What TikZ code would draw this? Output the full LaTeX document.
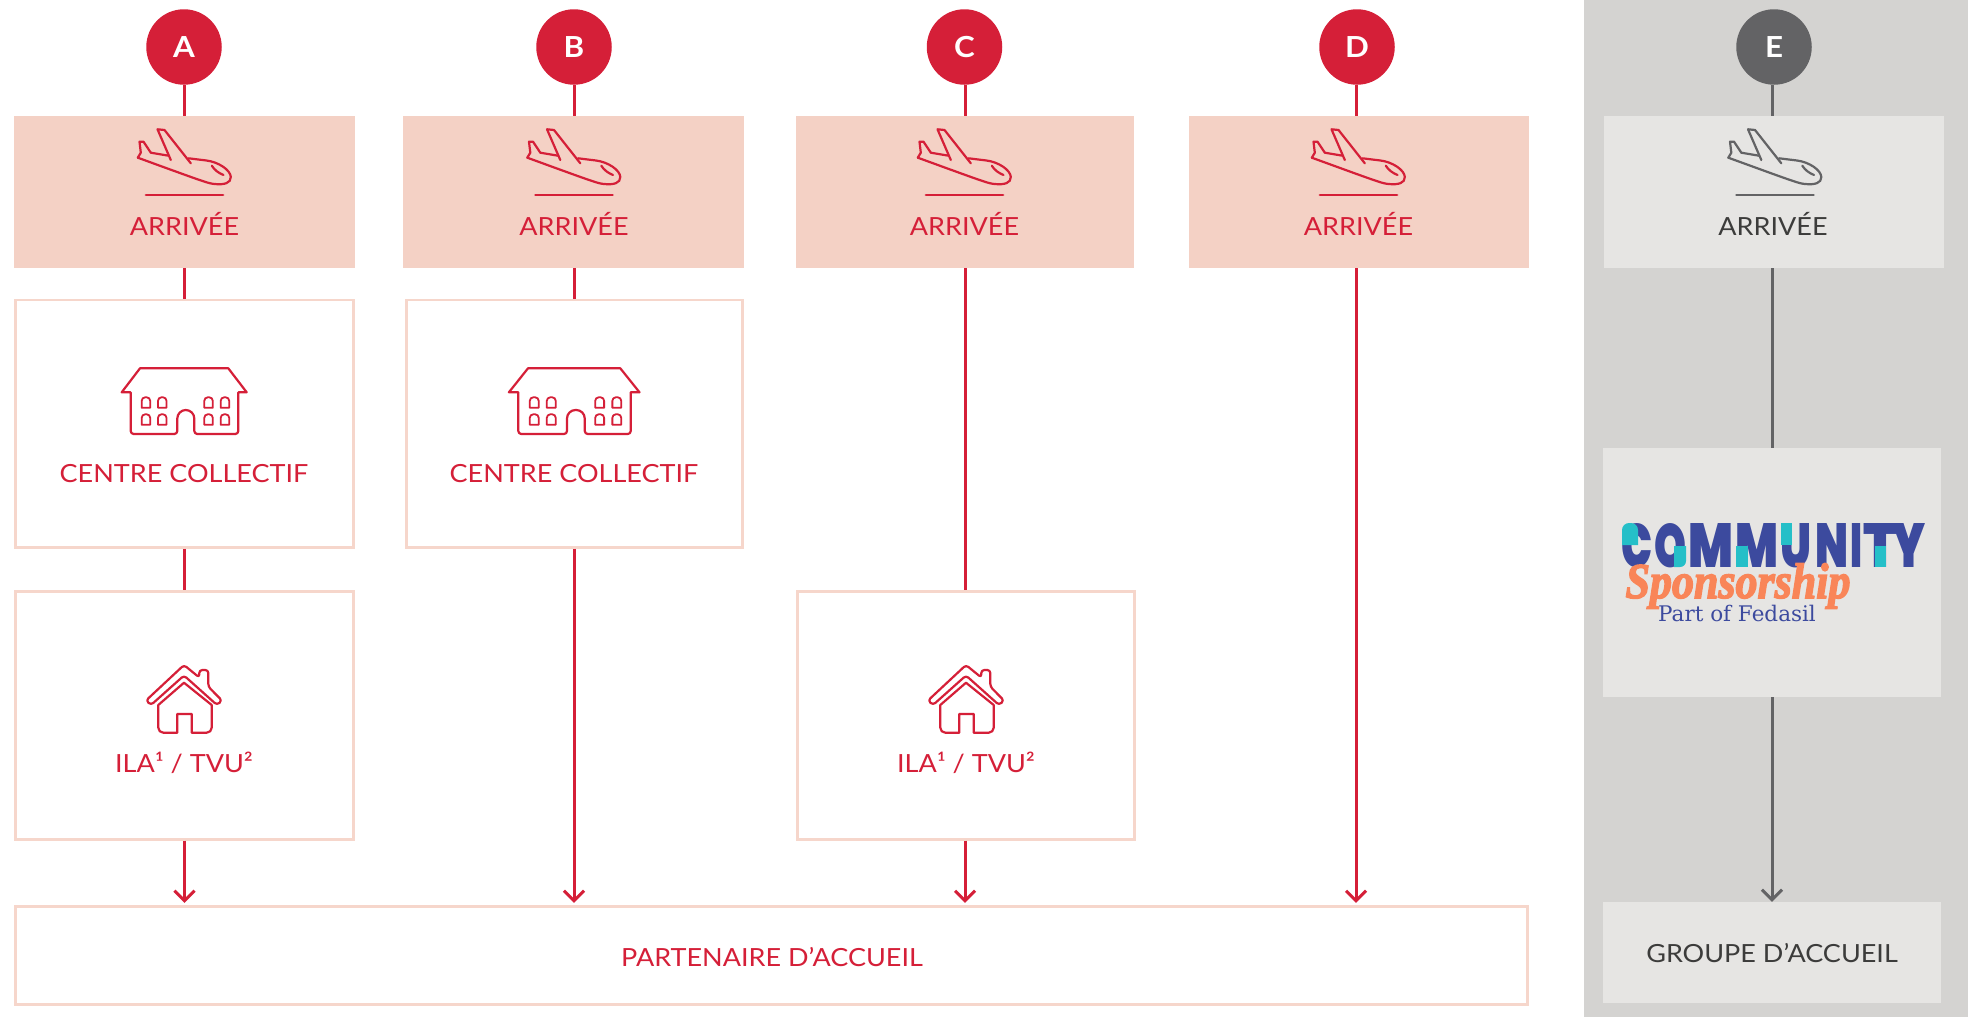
\documentclass[tikz,border=0pt]{standalone}
\usepackage{fontspec}
\usepackage{graphicx}
\usetikzlibrary{arrows.meta}
\setsansfont[FakeStretch=1.08]{Lato}
\renewcommand{\familydefault}{\sfdefault}
\newfontfamily\logofont{Poppins Black}
\newfontfamily\subfont{DejaVu Serif}
\newfontfamily\swashfont[UprightFont=* Bold Italic,FakeBold=3]{Liberation Serif}

\definecolor{inkred}{HTML}{D51F38}
\definecolor{inkgrey}{HTML}{636365}
\definecolor{inkdark}{HTML}{3C3C3B}
\definecolor{pinkfill}{HTML}{F4D1C5}
\definecolor{pinkedge}{HTML}{F6D6CB}
\definecolor{panelgrey}{HTML}{D4D3D1}
\definecolor{boxgrey}{HTML}{E6E5E3}
\definecolor{logoblue}{HTML}{3C4A9E}
\definecolor{logoteal}{HTML}{25BFC8}
\definecolor{logoorange}{HTML}{F98558}

% one logo letter: gap, width, letter
\newcommand{\logoletter}[3]{\hspace{#1pt}\resizebox{#2pt}{44pt}{#3}}

\tikzset{
    badge/.style={circle,inner sep=0pt,minimum size=75.5pt,text=white,font=\fontsize{29}{29}\selectfont\bfseries},
    arrivalbox/.style={rectangle,fill=pinkfill,inner sep=0pt,minimum height=152pt},
    greybox/.style={rectangle,fill=boxgrey,inner sep=0pt},
    stopbox/.style={rectangle,draw=pinkedge,line width=2.8pt,fill=white,inner sep=0pt,minimum height=247.5pt},
    caption/.style={inner sep=0pt,anchor=base,font=\fontsize{25}{25}\selectfont},
    link/.style={line width=3pt},
    flow/.style={line width=3pt,-{Straight Barb[length=10pt,width=20pt]},shorten >=2pt},
    iconline/.style={line width=2.2pt,line join=round,line cap=round},
    plane/.pic={
        \draw[iconline] (-46.7,41.7) -- (-43.7,36.7) -- (-45,25.7) -- (-41,25.7) -- (-33.7,36.7) -- (-16,39.7);
        \draw[iconline] (-13.7,44) -- (-27,13.3) -- (-20,14) -- (6.3,47.3);
        \draw[iconline] (4,42.3) -- (22,44.5) .. controls (34,46) and (46,54) .. (46.3,61) .. controls (46.5,67) and (40,69) .. (30,68) .. controls (24,67.5) and (20,66) .. (-46.7,41.7);
        \draw[iconline] (27.3,49.7) .. controls (30,54) and (34,57) .. (39,59);
        \draw[iconline,line width=2.8pt] (-38.5,79) -- (38.5,79);
    },
    building/.pic={
        \draw[iconline] (-62.3,392.3) -- (-44,368.3) -- (44.3,368.3) -- (62.7,392.3) -- (54.3,392.3)
            [rounded corners=3pt] -- (54.3,434) -- (10.3,434)
            [rounded corners=8.5pt] -- (10.3,410) -- (-6.7,410)
            [rounded corners=3pt] -- (-6.7,434) -- (-53.3,434)
            [sharp corners] -- (-53.3,392.3) -- cycle;
        \foreach \wx in {-42.3,-26,20.3,36.7}
            \foreach \wy in {397.3,414.3}
                \draw[iconline,line width=1.8pt] (\wx,\wy+10.5) [rounded corners=3.5pt] -- (\wx,\wy) -- (\wx+8.5,\wy) [sharp corners] -- (\wx+8.5,\wy+10.5) -- cycle;
    },
    cottage/.pic={
        \draw[iconline,rounded corners=3pt] (0,665) -- (15.3,677.5) -- (15.3,670) -- (24.3,670) -- (24.3,686.7) -- (38,700.5) -- (33,705) -- (0,675.5) -- (-33,705) -- (-38,700.5) -- cycle;
        \draw[iconline] (-25.7,705) [rounded corners=5pt] -- (-25.7,732.7) [sharp corners] -- (-6.7,732.7) -- (-6.7,714) -- (7.7,714) -- (7.7,732.7) [rounded corners=5pt] -- (27.7,732.7) [sharp corners] -- (27.7,705) -- (0,682.7) -- cycle;
    },
}

\begin{document}
\begin{tikzpicture}[x=1pt,y=-1pt]
    \useasboundingbox (0,0) rectangle (1968,1017);

    % Grey column
    \fill[panelgrey] (1584,0) rectangle (1968,1017);

    % Column axes
    \coordinate (axisA) at (184.5,0);
    \coordinate (axisB) at (574,0);
    \coordinate (axisC) at (965,0);
    \coordinate (axisD) at (1356,0);
    \coordinate (axisE) at (1772,0);

    % Badges
    \node[badge,fill=inkred] (badgeA) at (184,47) {A};
    \node[badge,fill=inkred] (badgeB) at (574,47) {B};
    \node[badge,fill=inkred] (badgeC) at (964.5,47) {C};
    \node[badge,fill=inkred] (badgeD) at (1357,47) {D};
    \node[badge,fill=inkgrey] (badgeE) at (1774,47) {E};

    % Arrival boxes
    \node[arrivalbox,minimum width=341pt] (arrivalA) at (184.5,192) {};
    \node[arrivalbox,minimum width=341pt] (arrivalB) at (573.5,192) {};
    \node[arrivalbox,minimum width=338pt] (arrivalC) at (965,192) {};
    \node[arrivalbox,minimum width=340pt] (arrivalD) at (1358.5,192) {};
    \node[greybox,minimum width=340pt,minimum height=152pt] (arrivalE) at (1774,192) {};

    \pic[inkred] at (184.5,116) {plane};
    \pic[inkred] at (574,116) {plane};
    \pic[inkred] at (964.5,116) {plane};
    \pic[inkred] at (1358.5,116) {plane};
    \pic[inkgrey] at (1775,116) {plane};

    \node[caption,text=inkred] (arrivalTextA) at (184.5,235.7) {ARRIVÉE};
    \node[caption,text=inkred] (arrivalTextB) at (574,235.7) {ARRIVÉE};
    \node[caption,text=inkred] (arrivalTextC) at (964.5,235.7) {ARRIVÉE};
    \node[caption,text=inkred] (arrivalTextD) at (1358.5,235.7) {ARRIVÉE};
    \node[caption,text=inkdark] (arrivalTextE) at (1773,235.7) {ARRIVÉE};

    % Collective centres
    \node[stopbox,minimum width=338pt] (centreA) at (184.3,423.7) {};
    \node[stopbox,minimum width=336pt] (centreB) at (574.5,423.7) {};
    \pic[inkred] at (184,0) {building};
    \pic[inkred,xscale=1.045] at (574,0) {building};
    \node[caption,text=inkred] (centreTextA) at (184,482.3) {CENTRE COLLECTIF};
    \node[caption,text=inkred] (centreTextB) at (574,482.3) {CENTRE COLLECTIF};

    % Housing
    \node[stopbox,minimum width=338pt] (housingA) at (184.3,715.5) {};
    \node[stopbox,minimum width=337pt] (housingC) at (966.3,715.5) {};
    \pic[inkred] at (184,0) {cottage};
    \pic[inkred] at (966,0) {cottage};
    \node[caption,text=inkred] (housingTextA) at (184,772.7) {ILA¹ / TVU²};
    \node[caption,text=inkred] (housingTextC) at (966,772.7) {ILA¹ / TVU²};

    % Host boxes
    \node[stopbox,minimum width=1511.5pt,minimum height=98.5pt] (partner) at (771.5,955.5) {};
    \node[caption,text=inkred] (partnerText) at (772,966) {PARTENAIRE D’ACCUEIL};
    \node[greybox,minimum width=338pt,minimum height=101pt] (group) at (1772,952.5) {};
    \node[caption,text=inkdark] (groupText) at (1772,962.7) {GROUPE D’ACCUEIL};

    % Logo
    \node[greybox,minimum width=338pt,minimum height=249pt] (logoBox) at (1772,572.5) {};
    \node[inner sep=0pt,anchor=base west,text=logoblue] (logoTop) at (1621.7,567) {\logofont\fontsize{60}{60}\selectfont
        \logoletter{0}{31}{C}\logoletter{1.6}{32}{O}\logoletter{2}{45}{M}\logoletter{1.7}{43}{M}\logoletter{2.7}{31}{U}\logoletter{3.3}{33}{N}\logoletter{2}{12}{I}\logoletter{1}{34}{T}\logoletter{-5}{33}{Y}};
    \fill[logoteal,rounded corners=7pt] (1622,545) -- (1622,523) -- (1638,523) [sharp corners] -- (1638,545) -- cycle;
    \fill[logoteal,rounded corners=6pt] (1674,546) [sharp corners] -- (1686,546) [rounded corners=6pt] -- (1686,567) [sharp corners] -- (1674,567) -- cycle;
    \fill[logoteal] (1736,546) rectangle (1748,567);
    \fill[logoteal] (1781,523) rectangle (1792,545);
    \fill[logoteal] (1875,546) rectangle (1886,567);
    \node[inner sep=0pt,anchor=base,text=logoorange] (logoScript) at (1738,598) {\scalebox{0.88}[1]{\swashfont\fontsize{50}{50}\selectfont Sponsorship}};
    \node[inner sep=0pt,anchor=base,text=logoblue] (logoSub) at (1737,621) {\subfont\fontsize{21.5}{21.5}\selectfont Part of Fedasil};

    % Links
    \foreach \col in {A,B,C,D}
        \draw[link,inkred] (axis\col |- badge\col.south) -- (axis\col |- arrival\col.north);
    \draw[link,inkgrey] (axisE |- badgeE.south) -- (axisE |- arrivalE.north);
    \draw[link,inkred] (axisA |- arrivalA.south) -- (axisA |- centreA.north);
    \draw[link,inkred] (axisB |- arrivalB.south) -- (axisB |- centreB.north);
    \draw[link,inkred] (axisA |- centreA.south) -- (axisA |- housingA.north);
    \draw[link,inkred] (axisC |- arrivalC.south) -- (axisC |- housingC.north);
    \draw[flow,inkred] (axisA |- housingA.south) -- (axisA |- partner.north);
    \draw[flow,inkred] (axisB |- centreB.south) -- (axisB |- partner.north);
    \draw[flow,inkred] (axisC |- housingC.south) -- (axisC |- partner.north);
    \draw[flow,inkred] (axisD |- arrivalD.south) -- (axisD |- partner.north);
    \draw[link,inkgrey] (axisE |- arrivalE.south) -- (axisE |- logoBox.north);
    \draw[flow,inkgrey,shorten >=0pt] (axisE |- logoBox.south) -- (axisE |- group.north);
\end{tikzpicture}
\end{document}
